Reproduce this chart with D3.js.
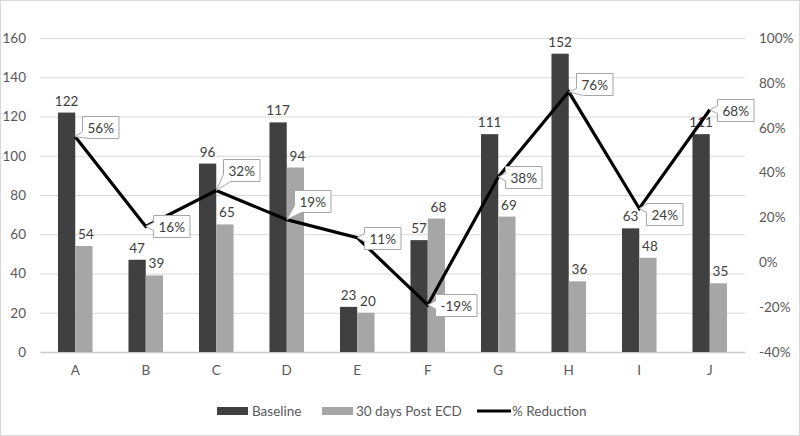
<!DOCTYPE html>
<html><head><meta charset="utf-8">
<script src="https://cdn.jsdelivr.net/npm/d3@7"></script>
<style>body{margin:0;background:#fff}svg{display:block}</style>
</head><body>
<svg id="c" width="800" height="436"></svg>
<script>
const categories = ["A","B","C","D","E","F","G","H","I","J"];
const baseline = [122,47,96,117,23,57,111,152,63,111];
const post30 = [54,39,65,94,20,68,69,36,48,35];
const reduction = [56,16,32,19,11,-19,38,76,24,68];
const leftTicks = [0,20,40,60,80,100,120,140,160];
const rightTicks = [-40,-20,0,20,40,60,80,100];
const seriesNames = ["Baseline","30 days Post ECD","% Reduction"];
// layout only: vertical shift of each callout box centre relative to its point
const calloutShift = [-10,0,-21,-19,0,0,0,-8,6,0];

const FONT = "Lato, 'Open Sans', sans-serif";
const svg = d3.select("#c");
const W = 800, H = 436;
const m = {l:40, r:55, t:38, b:84};
const x0 = m.l, x1 = W - m.r, yTop = m.t, yBot = H - m.b;

svg.append("rect").attr("x",0.5).attr("y",0.5).attr("width",W-1).attr("height",H-1)
  .attr("fill","#fff").attr("stroke","#d9d9d9");

const x = d3.scaleBand().domain(categories).range([x0,x1]);
const yL = d3.scaleLinear().domain([0,160]).range([yBot,yTop]);
const yR = d3.scaleLinear().domain([-40,100]).range([yBot,yTop]);

// grid
svg.append("g").selectAll("line").data(leftTicks.filter(d=>d>0)).join("line")
  .attr("x1",x0).attr("x2",x1).attr("y1",d=>yL(d)+0.5).attr("y2",d=>yL(d)+0.5)
  .attr("stroke","#d9d9d9").attr("stroke-width",1);

// left axis
const axL = d3.axisLeft(yL).tickValues(leftTicks).tickSize(0).tickPadding(14);
const gL = svg.append("g").attr("transform",`translate(${x0},0)`).call(axL);
gL.select(".domain").remove();
gL.selectAll("text").attr("font-family",FONT).attr("font-size",13.5).attr("fill","#595959");

// right axis
const axR = d3.axisRight(yR).tickValues(rightTicks).tickSize(0).tickPadding(14).tickFormat(d=>d+"%");
const gR = svg.append("g").attr("transform",`translate(${x1},0)`).call(axR);
gR.select(".domain").remove();
gR.selectAll("text").attr("font-family",FONT).attr("font-size",13.5).attr("fill","#595959");

// bottom axis
const axB = d3.axisBottom(x).tickSize(0).tickPadding(13);
const gB = svg.append("g").attr("transform",`translate(0,${yBot})`).call(axB);
gB.select(".domain").attr("stroke","#c8c8c8").attr("stroke-width",1.5);
gB.selectAll("text").attr("font-family",FONT).attr("font-size",13.5).attr("fill","#595959");

const bw = x.bandwidth()*0.245;
const colors = ["#404040","#a6a6a6"];
const series = [baseline, post30];
series.forEach((vals,si)=>{
  const g = svg.append("g");
  g.selectAll("rect").data(vals).join("rect")
    .attr("x",(d,i)=>x(categories[i]) + x.bandwidth()/2 - bw + si*bw)
    .attr("width",bw)
    .attr("y",d=>yL(d)).attr("height",d=>yBot-yL(d))
    .attr("fill",colors[si]);
});
series.forEach((vals,si)=>{
  svg.append("g").selectAll("text").data(vals).join("text")
    .attr("x",(d,i)=>x(categories[i]) + x.bandwidth()/2 - bw/2 + si*bw + (si?2:0))
    .attr("y",d=>yL(d)-7)
    .attr("text-anchor","middle").attr("font-family",FONT).attr("font-size",13.5)
    .attr("fill","#404040").text(d=>d);
});

// line
const cx = i => x(categories[i]) + x.bandwidth()/2;
const line = d3.line().x((d,i)=>cx(i)).y(d=>yR(d));
svg.append("path").datum(reduction).attr("d",line).attr("fill","none")
  .attr("stroke","#000").attr("stroke-width",3.2).attr("stroke-linejoin","miter");

// callouts
const cg = svg.append("g");
reduction.forEach((v,i)=>{
  const px = cx(i), py = yR(v);
  const g = cg.append("g");
  const path = g.append("path");
  const t = g.append("text").attr("font-family",FONT).attr("font-size",13.5)
    .attr("fill","#404040").text(v+"%");
  const tw = t.node().getComputedTextLength();
  const w = tw + 10, h = 22;
  const bx = Math.round(px + 7) + 0.5;
  const by = Math.round(py + calloutShift[i] - h/2) + 0.5;
  t.attr("x",bx+5).attr("y",by+h/2+5);
  let d;
  if (py > by + h - 5) {
    d = `M${bx},${by}H${bx+w}V${by+h}H${bx+7}L${px},${py}L${bx},${by+h-7}Z`;
  } else {
    const c = Math.max(by+5, Math.min(by+h-5, py));
    d = `M${bx},${by}H${bx+w}V${by+h}H${bx}V${c+4}L${px},${py}L${bx},${c-4}Z`;
  }
  path.attr("d",d).attr("fill","#fff").attr("stroke","#a6a6a6").attr("stroke-width",1);
});

// legend
const ly = 411;
const leg = svg.append("g").attr("font-family",FONT).attr("font-size",13.5).attr("fill","#595959");
leg.append("rect").attr("x",217).attr("y",ly-4).attr("width",31).attr("height",8).attr("fill",colors[0]);
leg.append("text").attr("x",252).attr("y",ly+5).text(seriesNames[0]);
leg.append("rect").attr("x",322).attr("y",ly-4).attr("width",31).attr("height",8).attr("fill",colors[1]);
leg.append("text").attr("x",356).attr("y",ly+5).text(seriesNames[1]);
leg.append("line").attr("x1",477).attr("x2",511).attr("y1",ly).attr("y2",ly).attr("stroke","#000").attr("stroke-width",3.2);
leg.append("text").attr("x",512).attr("y",ly+5).text(seriesNames[2]);
</script>
</body></html>
